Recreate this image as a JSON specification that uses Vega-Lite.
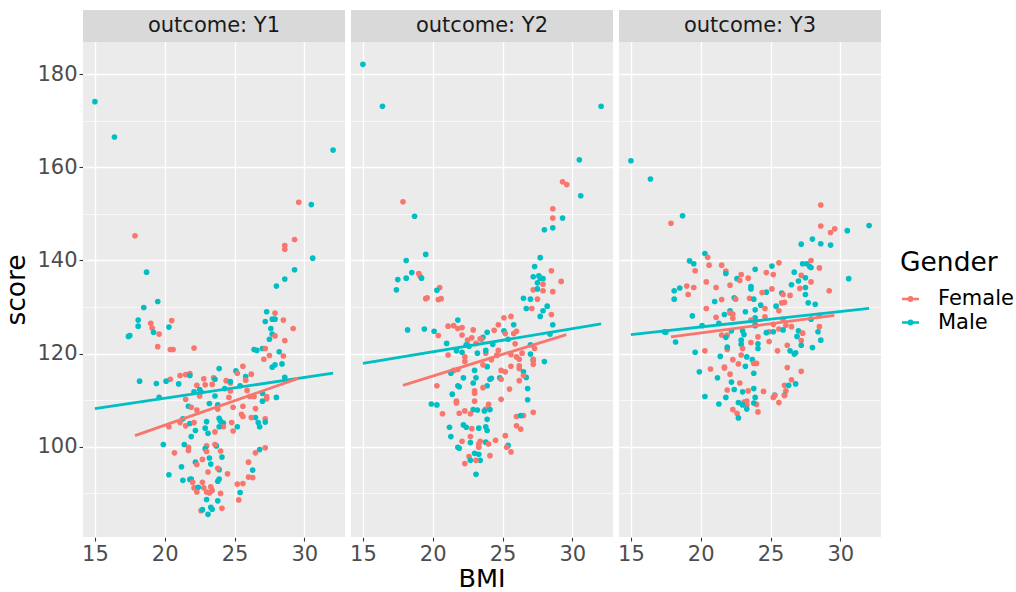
{
"$schema": "https://vega.github.io/schema/vega-lite/v6.json",
"background": "white",
"padding": {"left": 3, "top": 10, "right": 0, "bottom": 0},
"data": {"values": [
{"outcome":"Y1","kind":"strip","label":"outcome: Y1"},
{"outcome":"Y2","kind":"strip","label":"outcome: Y2"},
{"outcome":"Y3","kind":"strip","label":"outcome: Y3"},
{"outcome":"Y1","kind":"fit","Gender":"Male","BMI":15.0,"score":108.2},
{"outcome":"Y1","kind":"fit","Gender":"Male","BMI":32.06,"score":115.8},
{"outcome":"Y1","kind":"fit","Gender":"Female","BMI":17.87,"score":102.4},
{"outcome":"Y1","kind":"fit","Gender":"Female","BMI":29.57,"score":114.7},
{"outcome":"Y2","kind":"fit","Gender":"Male","BMI":15.0,"score":117.9},
{"outcome":"Y2","kind":"fit","Gender":"Male","BMI":32.06,"score":126.4},
{"outcome":"Y2","kind":"fit","Gender":"Female","BMI":17.87,"score":113.2},
{"outcome":"Y2","kind":"fit","Gender":"Female","BMI":29.57,"score":124.1},
{"outcome":"Y3","kind":"fit","Gender":"Male","BMI":15.0,"score":124.1},
{"outcome":"Y3","kind":"fit","Gender":"Male","BMI":32.06,"score":129.7},
{"outcome":"Y3","kind":"fit","Gender":"Female","BMI":17.87,"score":123.6},
{"outcome":"Y3","kind":"fit","Gender":"Female","BMI":29.57,"score":128.2},
{"outcome":"Y1","Gender":"Male","BMI":15.0,"score":174.1},
{"outcome":"Y1","Gender":"Male","BMI":16.4,"score":166.5},
{"outcome":"Y1","Gender":"Male","BMI":32.06,"score":163.7},
{"outcome":"Y1","Gender":"Female","BMI":29.6,"score":152.5},
{"outcome":"Y1","Gender":"Male","BMI":30.5,"score":152.0},
{"outcome":"Y1","Gender":"Female","BMI":17.87,"score":145.3},
{"outcome":"Y1","Gender":"Female","BMI":29.3,"score":144.5},
{"outcome":"Y1","Gender":"Female","BMI":28.6,"score":143.2},
{"outcome":"Y1","Gender":"Female","BMI":28.6,"score":142.4},
{"outcome":"Y1","Gender":"Male","BMI":30.6,"score":140.5},
{"outcome":"Y1","Gender":"Male","BMI":18.7,"score":137.5},
{"outcome":"Y1","Gender":"Male","BMI":29.3,"score":138.0},
{"outcome":"Y1","Gender":"Male","BMI":28.6,"score":136.0},
{"outcome":"Y1","Gender":"Male","BMI":28.0,"score":134.5},
{"outcome":"Y1","Gender":"Male","BMI":19.5,"score":131.2},
{"outcome":"Y1","Gender":"Male","BMI":18.5,"score":129.9},
{"outcome":"Y1","Gender":"Male","BMI":27.3,"score":129.0},
{"outcome":"Y1","Gender":"Female","BMI":27.9,"score":128.7},
{"outcome":"Y1","Gender":"Male","BMI":18.1,"score":127.2},
{"outcome":"Y1","Gender":"Male","BMI":27.2,"score":126.9},
{"outcome":"Y1","Gender":"Male","BMI":27.7,"score":127.4},
{"outcome":"Y1","Gender":"Male","BMI":27.9,"score":127.4},
{"outcome":"Y1","Gender":"Female","BMI":28.5,"score":127.2},
{"outcome":"Y1","Gender":"Female","BMI":20.5,"score":127.1},
{"outcome":"Y1","Gender":"Female","BMI":19.0,"score":126.5},
{"outcome":"Y1","Gender":"Male","BMI":18.1,"score":125.9},
{"outcome":"Y1","Gender":"Female","BMI":19.1,"score":125.5},
{"outcome":"Y1","Gender":"Male","BMI":20.3,"score":125.7},
{"outcome":"Y1","Gender":"Male","BMI":27.6,"score":125.4},
{"outcome":"Y1","Gender":"Female","BMI":29.2,"score":125.4},
{"outcome":"Y1","Gender":"Male","BMI":19.2,"score":124.6},
{"outcome":"Y1","Gender":"Female","BMI":19.6,"score":124.2},
{"outcome":"Y1","Gender":"Male","BMI":27.7,"score":124.2},
{"outcome":"Y1","Gender":"Female","BMI":27.9,"score":123.8},
{"outcome":"Y1","Gender":"Male","BMI":17.4,"score":123.7},
{"outcome":"Y1","Gender":"Male","BMI":17.5,"score":123.9},
{"outcome":"Y1","Gender":"Male","BMI":27.5,"score":123.1},
{"outcome":"Y1","Gender":"Female","BMI":28.6,"score":122.8},
{"outcome":"Y1","Gender":"Female","BMI":19.5,"score":121.5},
{"outcome":"Y1","Gender":"Female","BMI":20.4,"score":120.9},
{"outcome":"Y1","Gender":"Female","BMI":20.6,"score":120.9},
{"outcome":"Y1","Gender":"Female","BMI":22.1,"score":121.2},
{"outcome":"Y1","Gender":"Male","BMI":26.4,"score":120.9},
{"outcome":"Y1","Gender":"Male","BMI":26.6,"score":120.7},
{"outcome":"Y1","Gender":"Male","BMI":27.0,"score":121.1},
{"outcome":"Y1","Gender":"Female","BMI":27.2,"score":121.1},
{"outcome":"Y1","Gender":"Male","BMI":28.2,"score":120.4},
{"outcome":"Y1","Gender":"Female","BMI":27.5,"score":119.6},
{"outcome":"Y1","Gender":"Female","BMI":28.5,"score":119.5},
{"outcome":"Y1","Gender":"Female","BMI":27.1,"score":118.8},
{"outcome":"Y1","Gender":"Male","BMI":28.4,"score":117.8},
{"outcome":"Y1","Gender":"Male","BMI":27.9,"score":117.6},
{"outcome":"Y1","Gender":"Male","BMI":27.7,"score":117.1},
{"outcome":"Y1","Gender":"Female","BMI":25.6,"score":117.3},
{"outcome":"Y1","Gender":"Male","BMI":23.9,"score":116.8},
{"outcome":"Y1","Gender":"Male","BMI":25.1,"score":116.3},
{"outcome":"Y1","Gender":"Female","BMI":25.2,"score":115.8},
{"outcome":"Y1","Gender":"Female","BMI":26.2,"score":115.6},
{"outcome":"Y1","Gender":"Male","BMI":25.8,"score":115.1},
{"outcome":"Y1","Gender":"Male","BMI":28.6,"score":114.9},
{"outcome":"Y1","Gender":"Female","BMI":21.1,"score":115.3},
{"outcome":"Y1","Gender":"Female","BMI":21.5,"score":115.5},
{"outcome":"Y1","Gender":"Female","BMI":21.8,"score":115.7},
{"outcome":"Y1","Gender":"Male","BMI":21.8,"score":115.3},
{"outcome":"Y1","Gender":"Female","BMI":23.5,"score":114.8},
{"outcome":"Y1","Gender":"Female","BMI":22.8,"score":114.6},
{"outcome":"Y1","Gender":"Male","BMI":23.6,"score":114.5},
{"outcome":"Y1","Gender":"Female","BMI":24.4,"score":114.2},
{"outcome":"Y1","Gender":"Female","BMI":24.7,"score":113.7},
{"outcome":"Y1","Gender":"Male","BMI":24.7,"score":114.0},
{"outcome":"Y1","Gender":"Female","BMI":25.8,"score":114.3},
{"outcome":"Y1","Gender":"Female","BMI":20.4,"score":114.5},
{"outcome":"Y1","Gender":"Male","BMI":18.2,"score":114.1},
{"outcome":"Y1","Gender":"Male","BMI":19.4,"score":113.6},
{"outcome":"Y1","Gender":"Male","BMI":20.1,"score":114.1},
{"outcome":"Y1","Gender":"Male","BMI":21.0,"score":113.5},
{"outcome":"Y1","Gender":"Female","BMI":22.3,"score":113.2},
{"outcome":"Y1","Gender":"Female","BMI":22.9,"score":113.3},
{"outcome":"Y1","Gender":"Female","BMI":23.4,"score":113.4},
{"outcome":"Y1","Gender":"Male","BMI":22.5,"score":112.3},
{"outcome":"Y1","Gender":"Male","BMI":22.1,"score":111.8},
{"outcome":"Y1","Gender":"Male","BMI":22.6,"score":111.8},
{"outcome":"Y1","Gender":"Male","BMI":25.4,"score":113.1},
{"outcome":"Y1","Gender":"Female","BMI":24.7,"score":112.0},
{"outcome":"Y1","Gender":"Female","BMI":25.9,"score":112.1},
{"outcome":"Y1","Gender":"Male","BMI":24.3,"score":112.5},
{"outcome":"Y1","Gender":"Male","BMI":19.6,"score":110.6},
{"outcome":"Y1","Gender":"Female","BMI":22.5,"score":110.9},
{"outcome":"Y1","Gender":"Male","BMI":23.6,"score":110.9},
{"outcome":"Y1","Gender":"Female","BMI":24.6,"score":110.6},
{"outcome":"Y1","Gender":"Female","BMI":26.1,"score":110.8},
{"outcome":"Y1","Gender":"Female","BMI":26.4,"score":110.8},
{"outcome":"Y1","Gender":"Male","BMI":27.0,"score":111.5},
{"outcome":"Y1","Gender":"Female","BMI":27.3,"score":110.8},
{"outcome":"Y1","Gender":"Female","BMI":27.3,"score":110.3},
{"outcome":"Y1","Gender":"Male","BMI":28.0,"score":110.6},
{"outcome":"Y1","Gender":"Male","BMI":27.0,"score":109.8},
{"outcome":"Y1","Gender":"Female","BMI":21.5,"score":110.2},
{"outcome":"Y1","Gender":"Male","BMI":21.7,"score":108.7},
{"outcome":"Y1","Gender":"Female","BMI":21.9,"score":108.5},
{"outcome":"Y1","Gender":"Female","BMI":22.3,"score":107.9},
{"outcome":"Y1","Gender":"Male","BMI":23.2,"score":109.3},
{"outcome":"Y1","Gender":"Male","BMI":23.8,"score":109.0},
{"outcome":"Y1","Gender":"Female","BMI":23.8,"score":108.1},
{"outcome":"Y1","Gender":"Female","BMI":24.9,"score":108.5},
{"outcome":"Y1","Gender":"Female","BMI":25.6,"score":108.7},
{"outcome":"Y1","Gender":"Female","BMI":26.5,"score":108.2},
{"outcome":"Y1","Gender":"Female","BMI":25.5,"score":107.0},
{"outcome":"Y1","Gender":"Female","BMI":25.6,"score":106.5},
{"outcome":"Y1","Gender":"Male","BMI":26.5,"score":106.3},
{"outcome":"Y1","Gender":"Female","BMI":26.2,"score":106.3},
{"outcome":"Y1","Gender":"Female","BMI":27.2,"score":106.0},
{"outcome":"Y1","Gender":"Male","BMI":26.7,"score":105.2},
{"outcome":"Y1","Gender":"Male","BMI":26.8,"score":104.3},
{"outcome":"Y1","Gender":"Male","BMI":27.2,"score":105.3},
{"outcome":"Y1","Gender":"Male","BMI":21.3,"score":106.0},
{"outcome":"Y1","Gender":"Female","BMI":21.1,"score":105.2},
{"outcome":"Y1","Gender":"Female","BMI":20.3,"score":104.3},
{"outcome":"Y1","Gender":"Female","BMI":21.5,"score":104.5},
{"outcome":"Y1","Gender":"Male","BMI":21.8,"score":105.0},
{"outcome":"Y1","Gender":"Female","BMI":22.1,"score":105.2},
{"outcome":"Y1","Gender":"Male","BMI":23.0,"score":105.4},
{"outcome":"Y1","Gender":"Female","BMI":23.6,"score":103.2},
{"outcome":"Y1","Gender":"Male","BMI":23.9,"score":106.1},
{"outcome":"Y1","Gender":"Male","BMI":24.0,"score":105.5},
{"outcome":"Y1","Gender":"Male","BMI":24.2,"score":105.1},
{"outcome":"Y1","Gender":"Female","BMI":24.2,"score":104.3},
{"outcome":"Y1","Gender":"Male","BMI":23.9,"score":104.3},
{"outcome":"Y1","Gender":"Male","BMI":22.9,"score":104.0},
{"outcome":"Y1","Gender":"Female","BMI":24.8,"score":105.2},
{"outcome":"Y1","Gender":"Male","BMI":25.2,"score":104.3},
{"outcome":"Y1","Gender":"Female","BMI":24.9,"score":103.4},
{"outcome":"Y1","Gender":"Male","BMI":22.2,"score":103.5},
{"outcome":"Y1","Gender":"Male","BMI":23.1,"score":102.9},
{"outcome":"Y1","Gender":"Male","BMI":21.9,"score":102.2},
{"outcome":"Y1","Gender":"Male","BMI":19.9,"score":100.5},
{"outcome":"Y1","Gender":"Male","BMI":21.4,"score":100.5},
{"outcome":"Y1","Gender":"Female","BMI":20.7,"score":98.7},
{"outcome":"Y1","Gender":"Female","BMI":21.7,"score":99.9},
{"outcome":"Y1","Gender":"Female","BMI":21.7,"score":99.2},
{"outcome":"Y1","Gender":"Female","BMI":23.0,"score":100.2},
{"outcome":"Y1","Gender":"Male","BMI":22.9,"score":99.6},
{"outcome":"Y1","Gender":"Female","BMI":23.0,"score":99.0},
{"outcome":"Y1","Gender":"Male","BMI":23.7,"score":100.2},
{"outcome":"Y1","Gender":"Female","BMI":23.6,"score":100.5},
{"outcome":"Y1","Gender":"Female","BMI":24.0,"score":99.1},
{"outcome":"Y1","Gender":"Male","BMI":24.1,"score":97.8},
{"outcome":"Y1","Gender":"Male","BMI":26.8,"score":99.4},
{"outcome":"Y1","Gender":"Female","BMI":27.2,"score":99.8},
{"outcome":"Y1","Gender":"Female","BMI":26.5,"score":98.7},
{"outcome":"Y1","Gender":"Female","BMI":22.7,"score":97.3},
{"outcome":"Y1","Gender":"Male","BMI":23.2,"score":97.6},
{"outcome":"Y1","Gender":"Male","BMI":22.2,"score":96.7},
{"outcome":"Y1","Gender":"Female","BMI":22.3,"score":96.2},
{"outcome":"Y1","Gender":"Male","BMI":23.3,"score":96.3},
{"outcome":"Y1","Gender":"Female","BMI":23.1,"score":94.6},
{"outcome":"Y1","Gender":"Male","BMI":23.9,"score":95.1},
{"outcome":"Y1","Gender":"Female","BMI":23.8,"score":95.4},
{"outcome":"Y1","Gender":"Female","BMI":24.5,"score":94.2},
{"outcome":"Y1","Gender":"Male","BMI":21.2,"score":95.7},
{"outcome":"Y1","Gender":"Male","BMI":20.3,"score":94.0},
{"outcome":"Y1","Gender":"Female","BMI":26.0,"score":96.7},
{"outcome":"Y1","Gender":"Male","BMI":26.3,"score":95.0},
{"outcome":"Y1","Gender":"Female","BMI":26.0,"score":93.5},
{"outcome":"Y1","Gender":"Female","BMI":26.3,"score":93.4},
{"outcome":"Y1","Gender":"Female","BMI":25.6,"score":92.1},
{"outcome":"Y1","Gender":"Female","BMI":25.2,"score":92.0},
{"outcome":"Y1","Gender":"Male","BMI":21.3,"score":92.8},
{"outcome":"Y1","Gender":"Male","BMI":21.8,"score":93.0},
{"outcome":"Y1","Gender":"Male","BMI":21.9,"score":93.1},
{"outcome":"Y1","Gender":"Female","BMI":22.0,"score":92.4},
{"outcome":"Y1","Gender":"Male","BMI":23.9,"score":93.1},
{"outcome":"Y1","Gender":"Male","BMI":23.8,"score":92.6},
{"outcome":"Y1","Gender":"Female","BMI":22.7,"score":92.4},
{"outcome":"Y1","Gender":"Female","BMI":22.1,"score":91.2},
{"outcome":"Y1","Gender":"Female","BMI":22.3,"score":91.2},
{"outcome":"Y1","Gender":"Male","BMI":22.4,"score":91.3},
{"outcome":"Y1","Gender":"Female","BMI":22.8,"score":91.2},
{"outcome":"Y1","Gender":"Female","BMI":23.3,"score":91.4},
{"outcome":"Y1","Gender":"Female","BMI":23.4,"score":90.6},
{"outcome":"Y1","Gender":"Female","BMI":23.2,"score":90.1},
{"outcome":"Y1","Gender":"Female","BMI":23.0,"score":90.3},
{"outcome":"Y1","Gender":"Female","BMI":22.3,"score":90.3},
{"outcome":"Y1","Gender":"Female","BMI":24.0,"score":90.0},
{"outcome":"Y1","Gender":"Male","BMI":25.4,"score":90.2},
{"outcome":"Y1","Gender":"Female","BMI":25.3,"score":88.6},
{"outcome":"Y1","Gender":"Male","BMI":23.0,"score":88.7},
{"outcome":"Y1","Gender":"Male","BMI":23.8,"score":88.4},
{"outcome":"Y1","Gender":"Male","BMI":23.3,"score":87.0},
{"outcome":"Y1","Gender":"Male","BMI":23.4,"score":86.6},
{"outcome":"Y1","Gender":"Female","BMI":22.6,"score":86.3},
{"outcome":"Y1","Gender":"Male","BMI":22.7,"score":86.5},
{"outcome":"Y1","Gender":"Female","BMI":24.1,"score":86.8},
{"outcome":"Y1","Gender":"Male","BMI":23.1,"score":85.5},
{"outcome":"Y2","Gender":"Male","BMI":15.0,"score":182.1},
{"outcome":"Y2","Gender":"Male","BMI":16.4,"score":173.1},
{"outcome":"Y2","Gender":"Male","BMI":32.06,"score":173.1},
{"outcome":"Y2","Gender":"Male","BMI":30.5,"score":161.6},
{"outcome":"Y2","Gender":"Female","BMI":29.3,"score":156.9},
{"outcome":"Y2","Gender":"Female","BMI":29.6,"score":156.3},
{"outcome":"Y2","Gender":"Male","BMI":30.6,"score":153.9},
{"outcome":"Y2","Gender":"Female","BMI":17.87,"score":152.6},
{"outcome":"Y2","Gender":"Male","BMI":18.7,"score":149.5},
{"outcome":"Y2","Gender":"Female","BMI":28.6,"score":151.1},
{"outcome":"Y2","Gender":"Female","BMI":28.6,"score":149.1},
{"outcome":"Y2","Gender":"Male","BMI":29.3,"score":149.1},
{"outcome":"Y2","Gender":"Male","BMI":28.6,"score":147.0},
{"outcome":"Y2","Gender":"Male","BMI":28.0,"score":146.6},
{"outcome":"Y2","Gender":"Male","BMI":19.5,"score":141.3},
{"outcome":"Y2","Gender":"Male","BMI":18.1,"score":140.0},
{"outcome":"Y2","Gender":"Male","BMI":27.7,"score":140.6},
{"outcome":"Y2","Gender":"Male","BMI":27.3,"score":138.7},
{"outcome":"Y2","Gender":"Male","BMI":18.5,"score":137.4},
{"outcome":"Y2","Gender":"Female","BMI":19.0,"score":137.2},
{"outcome":"Y2","Gender":"Female","BMI":19.1,"score":136.6},
{"outcome":"Y2","Gender":"Male","BMI":19.2,"score":136.2},
{"outcome":"Y2","Gender":"Male","BMI":17.5,"score":135.9},
{"outcome":"Y2","Gender":"Male","BMI":18.1,"score":136.2},
{"outcome":"Y2","Gender":"Male","BMI":17.4,"score":133.7},
{"outcome":"Y2","Gender":"Female","BMI":28.5,"score":137.8},
{"outcome":"Y2","Gender":"Male","BMI":27.2,"score":136.5},
{"outcome":"Y2","Gender":"Male","BMI":27.6,"score":136.7},
{"outcome":"Y2","Gender":"Male","BMI":27.7,"score":136.2},
{"outcome":"Y2","Gender":"Male","BMI":27.9,"score":136.1},
{"outcome":"Y2","Gender":"Male","BMI":27.5,"score":135.2},
{"outcome":"Y2","Gender":"Female","BMI":29.2,"score":135.5},
{"outcome":"Y2","Gender":"Female","BMI":27.9,"score":134.9},
{"outcome":"Y2","Gender":"Female","BMI":27.2,"score":133.7},
{"outcome":"Y2","Gender":"Male","BMI":27.5,"score":133.9},
{"outcome":"Y2","Gender":"Female","BMI":27.9,"score":133.5},
{"outcome":"Y2","Gender":"Female","BMI":28.6,"score":133.3},
{"outcome":"Y2","Gender":"Female","BMI":20.5,"score":134.2},
{"outcome":"Y2","Gender":"Male","BMI":20.3,"score":133.6},
{"outcome":"Y2","Gender":"Female","BMI":19.5,"score":131.8},
{"outcome":"Y2","Gender":"Female","BMI":19.6,"score":132.0},
{"outcome":"Y2","Gender":"Female","BMI":20.4,"score":131.6},
{"outcome":"Y2","Gender":"Female","BMI":20.6,"score":131.8},
{"outcome":"Y2","Gender":"Male","BMI":26.5,"score":131.9},
{"outcome":"Y2","Gender":"Male","BMI":27.0,"score":131.7},
{"outcome":"Y2","Gender":"Female","BMI":27.5,"score":131.7},
{"outcome":"Y2","Gender":"Male","BMI":28.2,"score":130.2},
{"outcome":"Y2","Gender":"Male","BMI":26.7,"score":129.7},
{"outcome":"Y2","Gender":"Female","BMI":27.1,"score":129.7},
{"outcome":"Y2","Gender":"Male","BMI":27.9,"score":129.2},
{"outcome":"Y2","Gender":"Female","BMI":28.5,"score":128.4},
{"outcome":"Y2","Gender":"Male","BMI":27.7,"score":128.0},
{"outcome":"Y2","Gender":"Female","BMI":25.6,"score":128.0},
{"outcome":"Y2","Gender":"Female","BMI":25.1,"score":127.7},
{"outcome":"Y2","Gender":"Male","BMI":21.8,"score":127.2},
{"outcome":"Y2","Gender":"Female","BMI":21.1,"score":125.9},
{"outcome":"Y2","Gender":"Female","BMI":21.5,"score":126.0},
{"outcome":"Y2","Gender":"Female","BMI":21.8,"score":125.4},
{"outcome":"Y2","Gender":"Female","BMI":22.1,"score":125.6},
{"outcome":"Y2","Gender":"Male","BMI":18.2,"score":125.1},
{"outcome":"Y2","Gender":"Male","BMI":19.4,"score":125.3},
{"outcome":"Y2","Gender":"Male","BMI":20.1,"score":124.8},
{"outcome":"Y2","Gender":"Female","BMI":20.4,"score":123.9},
{"outcome":"Y2","Gender":"Female","BMI":24.7,"score":126.2},
{"outcome":"Y2","Gender":"Male","BMI":25.8,"score":126.2},
{"outcome":"Y2","Gender":"Female","BMI":22.9,"score":125.1},
{"outcome":"Y2","Gender":"Female","BMI":24.4,"score":125.0},
{"outcome":"Y2","Gender":"Male","BMI":23.9,"score":124.6},
{"outcome":"Y2","Gender":"Male","BMI":25.1,"score":124.9},
{"outcome":"Y2","Gender":"Female","BMI":25.2,"score":124.3},
{"outcome":"Y2","Gender":"Female","BMI":25.8,"score":124.3},
{"outcome":"Y2","Gender":"Female","BMI":26.0,"score":124.8},
{"outcome":"Y2","Gender":"Female","BMI":22.1,"score":124.0},
{"outcome":"Y2","Gender":"Female","BMI":22.8,"score":123.4},
{"outcome":"Y2","Gender":"Female","BMI":22.5,"score":122.9},
{"outcome":"Y2","Gender":"Male","BMI":23.6,"score":123.5},
{"outcome":"Y2","Gender":"Female","BMI":23.4,"score":123.2},
{"outcome":"Y2","Gender":"Female","BMI":23.5,"score":123.1},
{"outcome":"Y2","Gender":"Male","BMI":28.6,"score":126.2},
{"outcome":"Y2","Gender":"Male","BMI":28.4,"score":124.2},
{"outcome":"Y2","Gender":"Male","BMI":25.4,"score":123.1},
{"outcome":"Y2","Gender":"Male","BMI":21.0,"score":122.2},
{"outcome":"Y2","Gender":"Male","BMI":22.4,"score":121.9},
{"outcome":"Y2","Gender":"Male","BMI":22.6,"score":121.6},
{"outcome":"Y2","Gender":"Female","BMI":23.1,"score":122.2},
{"outcome":"Y2","Gender":"Male","BMI":24.3,"score":122.0},
{"outcome":"Y2","Gender":"Female","BMI":25.9,"score":122.1},
{"outcome":"Y2","Gender":"Male","BMI":27.0,"score":121.9},
{"outcome":"Y2","Gender":"Female","BMI":27.3,"score":121.1},
{"outcome":"Y2","Gender":"Female","BMI":21.1,"score":119.7},
{"outcome":"Y2","Gender":"Male","BMI":21.7,"score":120.6},
{"outcome":"Y2","Gender":"Male","BMI":22.1,"score":120.3},
{"outcome":"Y2","Gender":"Female","BMI":22.3,"score":119.3},
{"outcome":"Y2","Gender":"Female","BMI":22.3,"score":118.3},
{"outcome":"Y2","Gender":"Male","BMI":23.2,"score":120.1},
{"outcome":"Y2","Gender":"Female","BMI":23.8,"score":120.1},
{"outcome":"Y2","Gender":"Male","BMI":23.8,"score":120.7},
{"outcome":"Y2","Gender":"Female","BMI":24.7,"score":120.7},
{"outcome":"Y2","Gender":"Female","BMI":24.6,"score":119.7},
{"outcome":"Y2","Gender":"Female","BMI":25.6,"score":119.8},
{"outcome":"Y2","Gender":"Female","BMI":26.0,"score":119.3},
{"outcome":"Y2","Gender":"Female","BMI":26.2,"score":118.8},
{"outcome":"Y2","Gender":"Female","BMI":26.4,"score":120.1},
{"outcome":"Y2","Gender":"Male","BMI":27.0,"score":119.9},
{"outcome":"Y2","Gender":"Female","BMI":24.2,"score":118.7},
{"outcome":"Y2","Gender":"Female","BMI":24.6,"score":119.6},
{"outcome":"Y2","Gender":"Male","BMI":27.2,"score":118.6},
{"outcome":"Y2","Gender":"Male","BMI":28.0,"score":118.3},
{"outcome":"Y2","Gender":"Female","BMI":27.2,"score":118.8},
{"outcome":"Y2","Gender":"Female","BMI":27.2,"score":117.7},
{"outcome":"Y2","Gender":"Male","BMI":23.9,"score":117.2},
{"outcome":"Y2","Gender":"Female","BMI":23.6,"score":117.6},
{"outcome":"Y2","Gender":"Female","BMI":25.6,"score":117.3},
{"outcome":"Y2","Gender":"Female","BMI":26.2,"score":117.4},
{"outcome":"Y2","Gender":"Female","BMI":26.2,"score":116.8},
{"outcome":"Y2","Gender":"Female","BMI":21.5,"score":116.4},
{"outcome":"Y2","Gender":"Female","BMI":21.8,"score":116.6},
{"outcome":"Y2","Gender":"Male","BMI":21.3,"score":115.8},
{"outcome":"Y2","Gender":"Male","BMI":23.0,"score":116.4},
{"outcome":"Y2","Gender":"Female","BMI":24.9,"score":116.4},
{"outcome":"Y2","Gender":"Female","BMI":25.2,"score":116.1},
{"outcome":"Y2","Gender":"Male","BMI":26.5,"score":116.1},
{"outcome":"Y2","Gender":"Male","BMI":26.7,"score":114.9},
{"outcome":"Y2","Gender":"Female","BMI":26.5,"score":115.3},
{"outcome":"Y2","Gender":"Female","BMI":26.2,"score":114.2},
{"outcome":"Y2","Gender":"Male","BMI":22.2,"score":114.8},
{"outcome":"Y2","Gender":"Male","BMI":23.1,"score":114.8},
{"outcome":"Y2","Gender":"Male","BMI":22.9,"score":113.7},
{"outcome":"Y2","Gender":"Male","BMI":24.1,"score":114.5},
{"outcome":"Y2","Gender":"Male","BMI":24.2,"score":114.7},
{"outcome":"Y2","Gender":"Male","BMI":24.8,"score":114.8},
{"outcome":"Y2","Gender":"Female","BMI":24.9,"score":114.5},
{"outcome":"Y2","Gender":"Male","BMI":23.9,"score":113.1},
{"outcome":"Y2","Gender":"Female","BMI":20.3,"score":113.1},
{"outcome":"Y2","Gender":"Male","BMI":21.8,"score":113.1},
{"outcome":"Y2","Gender":"Male","BMI":21.9,"score":112.9},
{"outcome":"Y2","Gender":"Female","BMI":23.6,"score":112.7},
{"outcome":"Y2","Gender":"Female","BMI":25.5,"score":112.4},
{"outcome":"Y2","Gender":"Male","BMI":26.8,"score":112.5},
{"outcome":"Y2","Gender":"Female","BMI":23.0,"score":112.0},
{"outcome":"Y2","Gender":"Female","BMI":23.0,"score":111.5},
{"outcome":"Y2","Gender":"Male","BMI":21.4,"score":111.3},
{"outcome":"Y2","Gender":"Male","BMI":19.9,"score":109.2},
{"outcome":"Y2","Gender":"Male","BMI":20.3,"score":109.0},
{"outcome":"Y2","Gender":"Female","BMI":21.7,"score":109.8},
{"outcome":"Y2","Gender":"Female","BMI":21.7,"score":109.4},
{"outcome":"Y2","Gender":"Male","BMI":22.9,"score":108.0},
{"outcome":"Y2","Gender":"Male","BMI":23.2,"score":107.9},
{"outcome":"Y2","Gender":"Female","BMI":23.0,"score":109.8},
{"outcome":"Y2","Gender":"Female","BMI":20.7,"score":107.1},
{"outcome":"Y2","Gender":"Female","BMI":21.9,"score":107.2},
{"outcome":"Y2","Gender":"Female","BMI":22.3,"score":107.7},
{"outcome":"Y2","Gender":"Female","BMI":22.7,"score":107.1},
{"outcome":"Y2","Gender":"Female","BMI":24.0,"score":109.1},
{"outcome":"Y2","Gender":"Female","BMI":23.8,"score":108.1},
{"outcome":"Y2","Gender":"Male","BMI":23.7,"score":107.7},
{"outcome":"Y2","Gender":"Male","BMI":24.1,"score":108.0},
{"outcome":"Y2","Gender":"Female","BMI":24.9,"score":110.2},
{"outcome":"Y2","Gender":"Male","BMI":26.8,"score":110.1},
{"outcome":"Y2","Gender":"Female","BMI":26.0,"score":106.5},
{"outcome":"Y2","Gender":"Female","BMI":26.5,"score":106.7},
{"outcome":"Y2","Gender":"Male","BMI":26.3,"score":106.7},
{"outcome":"Y2","Gender":"Female","BMI":27.2,"score":107.4},
{"outcome":"Y2","Gender":"Male","BMI":23.9,"score":105.9},
{"outcome":"Y2","Gender":"Male","BMI":22.2,"score":104.7},
{"outcome":"Y2","Gender":"Male","BMI":22.4,"score":104.2},
{"outcome":"Y2","Gender":"Female","BMI":22.8,"score":103.9},
{"outcome":"Y2","Gender":"Male","BMI":23.3,"score":104.0},
{"outcome":"Y2","Gender":"Male","BMI":23.8,"score":104.3},
{"outcome":"Y2","Gender":"Male","BMI":23.9,"score":103.5},
{"outcome":"Y2","Gender":"Female","BMI":26.0,"score":104.5},
{"outcome":"Y2","Gender":"Female","BMI":26.3,"score":103.8},
{"outcome":"Y2","Gender":"Male","BMI":21.2,"score":104.2},
{"outcome":"Y2","Gender":"Male","BMI":21.3,"score":102.2},
{"outcome":"Y2","Gender":"Female","BMI":22.7,"score":102.2},
{"outcome":"Y2","Gender":"Female","BMI":25.2,"score":102.4},
{"outcome":"Y2","Gender":"Female","BMI":22.1,"score":101.2},
{"outcome":"Y2","Gender":"Male","BMI":22.7,"score":100.9},
{"outcome":"Y2","Gender":"Female","BMI":23.4,"score":101.2},
{"outcome":"Y2","Gender":"Female","BMI":23.3,"score":100.6},
{"outcome":"Y2","Gender":"Female","BMI":23.3,"score":99.9},
{"outcome":"Y2","Gender":"Male","BMI":23.8,"score":101.0},
{"outcome":"Y2","Gender":"Female","BMI":24.0,"score":100.6},
{"outcome":"Y2","Gender":"Female","BMI":24.5,"score":101.4},
{"outcome":"Y2","Gender":"Male","BMI":25.4,"score":100.3},
{"outcome":"Y2","Gender":"Female","BMI":25.3,"score":99.9},
{"outcome":"Y2","Gender":"Female","BMI":25.6,"score":98.9},
{"outcome":"Y2","Gender":"Male","BMI":21.8,"score":99.9},
{"outcome":"Y2","Gender":"Male","BMI":21.9,"score":99.7},
{"outcome":"Y2","Gender":"Male","BMI":23.0,"score":98.6},
{"outcome":"Y2","Gender":"Male","BMI":23.3,"score":98.4},
{"outcome":"Y2","Gender":"Female","BMI":22.6,"score":97.9},
{"outcome":"Y2","Gender":"Female","BMI":24.1,"score":98.1},
{"outcome":"Y2","Gender":"Male","BMI":22.7,"score":97.1},
{"outcome":"Y2","Gender":"Male","BMI":23.4,"score":97.1},
{"outcome":"Y2","Gender":"Female","BMI":23.1,"score":97.1},
{"outcome":"Y2","Gender":"Female","BMI":22.3,"score":96.4},
{"outcome":"Y2","Gender":"Male","BMI":23.1,"score":94.1},
{"outcome":"Y3","Gender":"Male","BMI":15.0,"score":161.4},
{"outcome":"Y3","Gender":"Male","BMI":16.4,"score":157.5},
{"outcome":"Y3","Gender":"Male","BMI":18.7,"score":149.6},
{"outcome":"Y3","Gender":"Female","BMI":17.87,"score":148.0},
{"outcome":"Y3","Gender":"Female","BMI":28.6,"score":151.9},
{"outcome":"Y3","Gender":"Female","BMI":28.6,"score":147.4},
{"outcome":"Y3","Gender":"Female","BMI":29.3,"score":146.0},
{"outcome":"Y3","Gender":"Female","BMI":29.6,"score":146.8},
{"outcome":"Y3","Gender":"Male","BMI":30.5,"score":146.4},
{"outcome":"Y3","Gender":"Male","BMI":32.06,"score":147.5},
{"outcome":"Y3","Gender":"Male","BMI":28.0,"score":144.6},
{"outcome":"Y3","Gender":"Male","BMI":27.2,"score":143.5},
{"outcome":"Y3","Gender":"Male","BMI":28.6,"score":143.6},
{"outcome":"Y3","Gender":"Male","BMI":29.3,"score":143.3},
{"outcome":"Y3","Gender":"Male","BMI":20.3,"score":141.5},
{"outcome":"Y3","Gender":"Female","BMI":20.5,"score":140.7},
{"outcome":"Y3","Gender":"Male","BMI":19.2,"score":139.9},
{"outcome":"Y3","Gender":"Male","BMI":19.5,"score":139.3},
{"outcome":"Y3","Gender":"Female","BMI":20.6,"score":139.0},
{"outcome":"Y3","Gender":"Female","BMI":19.6,"score":137.8},
{"outcome":"Y3","Gender":"Female","BMI":21.5,"score":139.0},
{"outcome":"Y3","Gender":"Female","BMI":21.8,"score":137.7},
{"outcome":"Y3","Gender":"Male","BMI":21.8,"score":137.2},
{"outcome":"Y3","Gender":"Male","BMI":23.9,"score":138.1},
{"outcome":"Y3","Gender":"Male","BMI":25.1,"score":138.8},
{"outcome":"Y3","Gender":"Female","BMI":25.6,"score":139.5},
{"outcome":"Y3","Gender":"Female","BMI":24.7,"score":137.4},
{"outcome":"Y3","Gender":"Female","BMI":25.2,"score":137.0},
{"outcome":"Y3","Gender":"Male","BMI":27.3,"score":139.3},
{"outcome":"Y3","Gender":"Male","BMI":27.6,"score":139.3},
{"outcome":"Y3","Gender":"Male","BMI":27.8,"score":138.7},
{"outcome":"Y3","Gender":"Male","BMI":27.9,"score":138.5},
{"outcome":"Y3","Gender":"Female","BMI":27.9,"score":140.0},
{"outcome":"Y3","Gender":"Female","BMI":28.5,"score":138.4},
{"outcome":"Y3","Gender":"Male","BMI":26.7,"score":137.5},
{"outcome":"Y3","Gender":"Female","BMI":27.2,"score":136.8},
{"outcome":"Y3","Gender":"Male","BMI":27.5,"score":136.3},
{"outcome":"Y3","Gender":"Male","BMI":27.0,"score":135.6},
{"outcome":"Y3","Gender":"Male","BMI":30.6,"score":136.1},
{"outcome":"Y3","Gender":"Female","BMI":27.9,"score":135.4},
{"outcome":"Y3","Gender":"Male","BMI":26.5,"score":134.8},
{"outcome":"Y3","Gender":"Male","BMI":27.5,"score":134.2},
{"outcome":"Y3","Gender":"Female","BMI":27.1,"score":134.0},
{"outcome":"Y3","Gender":"Female","BMI":29.2,"score":133.5},
{"outcome":"Y3","Gender":"Female","BMI":22.9,"score":137.0},
{"outcome":"Y3","Gender":"Female","BMI":23.4,"score":136.2},
{"outcome":"Y3","Gender":"Male","BMI":22.6,"score":136.1},
{"outcome":"Y3","Gender":"Female","BMI":22.8,"score":135.7},
{"outcome":"Y3","Gender":"Female","BMI":20.4,"score":135.4},
{"outcome":"Y3","Gender":"Female","BMI":22.1,"score":134.7},
{"outcome":"Y3","Gender":"Female","BMI":21.1,"score":134.2},
{"outcome":"Y3","Gender":"Male","BMI":23.6,"score":134.4},
{"outcome":"Y3","Gender":"Male","BMI":23.6,"score":133.9},
{"outcome":"Y3","Gender":"Female","BMI":25.1,"score":133.9},
{"outcome":"Y3","Gender":"Male","BMI":24.7,"score":133.2},
{"outcome":"Y3","Gender":"Female","BMI":24.4,"score":133.1},
{"outcome":"Y3","Gender":"Male","BMI":18.1,"score":133.5},
{"outcome":"Y3","Gender":"Male","BMI":18.5,"score":134.1},
{"outcome":"Y3","Gender":"Male","BMI":18.1,"score":131.7},
{"outcome":"Y3","Gender":"Female","BMI":19.0,"score":134.5},
{"outcome":"Y3","Gender":"Female","BMI":19.5,"score":134.2},
{"outcome":"Y3","Gender":"Female","BMI":19.1,"score":132.7},
{"outcome":"Y3","Gender":"Male","BMI":25.8,"score":133.0},
{"outcome":"Y3","Gender":"Female","BMI":25.9,"score":132.7},
{"outcome":"Y3","Gender":"Female","BMI":26.4,"score":132.5},
{"outcome":"Y3","Gender":"Male","BMI":27.5,"score":132.7},
{"outcome":"Y3","Gender":"Female","BMI":21.5,"score":131.6},
{"outcome":"Y3","Gender":"Male","BMI":22.4,"score":132.0},
{"outcome":"Y3","Gender":"Female","BMI":22.5,"score":131.7},
{"outcome":"Y3","Gender":"Female","BMI":23.5,"score":131.9},
{"outcome":"Y3","Gender":"Male","BMI":23.8,"score":131.7},
{"outcome":"Y3","Gender":"Male","BMI":21.0,"score":131.2},
{"outcome":"Y3","Gender":"Female","BMI":25.8,"score":130.9},
{"outcome":"Y3","Gender":"Female","BMI":26.0,"score":131.0},
{"outcome":"Y3","Gender":"Male","BMI":27.7,"score":130.9},
{"outcome":"Y3","Gender":"Male","BMI":28.2,"score":130.6},
{"outcome":"Y3","Gender":"Male","BMI":24.3,"score":130.4},
{"outcome":"Y3","Gender":"Male","BMI":25.4,"score":130.2},
{"outcome":"Y3","Gender":"Female","BMI":24.6,"score":129.7},
{"outcome":"Y3","Gender":"Female","BMI":20.4,"score":129.7},
{"outcome":"Y3","Gender":"Male","BMI":23.2,"score":129.0},
{"outcome":"Y3","Gender":"Male","BMI":23.9,"score":129.4},
{"outcome":"Y3","Gender":"Female","BMI":25.6,"score":129.2},
{"outcome":"Y3","Gender":"Male","BMI":21.7,"score":128.4},
{"outcome":"Y3","Gender":"Male","BMI":22.1,"score":129.2},
{"outcome":"Y3","Gender":"Female","BMI":22.1,"score":128.7},
{"outcome":"Y3","Gender":"Female","BMI":22.3,"score":128.5},
{"outcome":"Y3","Gender":"Female","BMI":21.1,"score":127.8},
{"outcome":"Y3","Gender":"Male","BMI":19.4,"score":128.1},
{"outcome":"Y3","Gender":"Female","BMI":22.3,"score":127.6},
{"outcome":"Y3","Gender":"Female","BMI":24.6,"score":127.9},
{"outcome":"Y3","Gender":"Male","BMI":23.9,"score":127.7},
{"outcome":"Y3","Gender":"Female","BMI":23.6,"score":127.2},
{"outcome":"Y3","Gender":"Female","BMI":25.9,"score":127.4},
{"outcome":"Y3","Gender":"Female","BMI":28.5,"score":128.2},
{"outcome":"Y3","Gender":"Male","BMI":27.9,"score":127.4},
{"outcome":"Y3","Gender":"Male","BMI":21.3,"score":126.5},
{"outcome":"Y3","Gender":"Male","BMI":20.1,"score":126.0},
{"outcome":"Y3","Gender":"Male","BMI":17.4,"score":124.7},
{"outcome":"Y3","Gender":"Male","BMI":17.5,"score":124.6},
{"outcome":"Y3","Gender":"Female","BMI":23.9,"score":126.3},
{"outcome":"Y3","Gender":"Female","BMI":25.2,"score":126.3},
{"outcome":"Y3","Gender":"Male","BMI":23.9,"score":126.0},
{"outcome":"Y3","Gender":"Female","BMI":26.1,"score":126.1},
{"outcome":"Y3","Gender":"Female","BMI":26.5,"score":125.8},
{"outcome":"Y3","Gender":"Female","BMI":28.5,"score":125.8},
{"outcome":"Y3","Gender":"Female","BMI":25.6,"score":125.3},
{"outcome":"Y3","Gender":"Male","BMI":25.9,"score":125.1},
{"outcome":"Y3","Gender":"Male","BMI":27.0,"score":124.9},
{"outcome":"Y3","Gender":"Female","BMI":24.9,"score":124.7},
{"outcome":"Y3","Gender":"Male","BMI":25.2,"score":124.7},
{"outcome":"Y3","Gender":"Male","BMI":24.7,"score":124.5},
{"outcome":"Y3","Gender":"Male","BMI":28.4,"score":124.7},
{"outcome":"Y3","Gender":"Female","BMI":27.3,"score":124.4},
{"outcome":"Y3","Gender":"Male","BMI":26.9,"score":123.7},
{"outcome":"Y3","Gender":"Female","BMI":21.5,"score":124.0},
{"outcome":"Y3","Gender":"Female","BMI":21.9,"score":124.0},
{"outcome":"Y3","Gender":"Male","BMI":21.8,"score":123.5},
{"outcome":"Y3","Gender":"Male","BMI":22.2,"score":124.9},
{"outcome":"Y3","Gender":"Male","BMI":23.1,"score":124.1},
{"outcome":"Y3","Gender":"Male","BMI":23.0,"score":124.9},
{"outcome":"Y3","Gender":"Female","BMI":24.1,"score":123.6},
{"outcome":"Y3","Gender":"Male","BMI":18.2,"score":122.5},
{"outcome":"Y3","Gender":"Male","BMI":28.6,"score":122.9},
{"outcome":"Y3","Gender":"Female","BMI":24.9,"score":122.6},
{"outcome":"Y3","Gender":"Female","BMI":26.2,"score":121.8},
{"outcome":"Y3","Gender":"Female","BMI":27.2,"score":122.8},
{"outcome":"Y3","Gender":"Male","BMI":27.2,"score":121.8},
{"outcome":"Y3","Gender":"Male","BMI":22.9,"score":122.9},
{"outcome":"Y3","Gender":"Male","BMI":22.9,"score":122.0},
{"outcome":"Y3","Gender":"Female","BMI":23.6,"score":122.4},
{"outcome":"Y3","Gender":"Male","BMI":24.1,"score":122.1},
{"outcome":"Y3","Gender":"Male","BMI":24.1,"score":121.1},
{"outcome":"Y3","Gender":"Female","BMI":21.9,"score":120.9},
{"outcome":"Y3","Gender":"Female","BMI":23.0,"score":121.1},
{"outcome":"Y3","Gender":"Male","BMI":21.9,"score":121.4},
{"outcome":"Y3","Gender":"Male","BMI":28.0,"score":121.3},
{"outcome":"Y3","Gender":"Female","BMI":25.5,"score":120.6},
{"outcome":"Y3","Gender":"Female","BMI":20.3,"score":120.6},
{"outcome":"Y3","Gender":"Male","BMI":19.6,"score":120.3},
{"outcome":"Y3","Gender":"Male","BMI":26.4,"score":120.6},
{"outcome":"Y3","Gender":"Male","BMI":26.7,"score":119.9},
{"outcome":"Y3","Gender":"Male","BMI":26.8,"score":120.2},
{"outcome":"Y3","Gender":"Female","BMI":22.9,"score":119.7},
{"outcome":"Y3","Gender":"Male","BMI":21.4,"score":119.4},
{"outcome":"Y3","Gender":"Male","BMI":23.3,"score":119.3},
{"outcome":"Y3","Gender":"Male","BMI":23.7,"score":118.7},
{"outcome":"Y3","Gender":"Female","BMI":22.3,"score":118.7},
{"outcome":"Y3","Gender":"Female","BMI":22.7,"score":117.8},
{"outcome":"Y3","Gender":"Female","BMI":23.8,"score":117.9},
{"outcome":"Y3","Gender":"Female","BMI":24.0,"score":117.9},
{"outcome":"Y3","Gender":"Male","BMI":23.2,"score":117.3},
{"outcome":"Y3","Gender":"Female","BMI":20.7,"score":116.7},
{"outcome":"Y3","Gender":"Female","BMI":21.7,"score":117.1},
{"outcome":"Y3","Gender":"Female","BMI":21.7,"score":116.9},
{"outcome":"Y3","Gender":"Male","BMI":19.9,"score":116.1},
{"outcome":"Y3","Gender":"Female","BMI":22.1,"score":115.6},
{"outcome":"Y3","Gender":"Female","BMI":26.2,"score":117.0},
{"outcome":"Y3","Gender":"Female","BMI":27.2,"score":116.2},
{"outcome":"Y3","Gender":"Male","BMI":23.8,"score":115.8},
{"outcome":"Y3","Gender":"Male","BMI":21.2,"score":114.8},
{"outcome":"Y3","Gender":"Female","BMI":26.5,"score":114.4},
{"outcome":"Y3","Gender":"Male","BMI":22.2,"score":113.9},
{"outcome":"Y3","Gender":"Male","BMI":26.8,"score":113.5},
{"outcome":"Y3","Gender":"Female","BMI":22.8,"score":113.7},
{"outcome":"Y3","Gender":"Female","BMI":26.0,"score":113.2},
{"outcome":"Y3","Gender":"Male","BMI":26.3,"score":113.2},
{"outcome":"Y3","Gender":"Female","BMI":21.9,"score":112.2},
{"outcome":"Y3","Gender":"Female","BMI":23.4,"score":112.0},
{"outcome":"Y3","Gender":"Female","BMI":24.5,"score":111.9},
{"outcome":"Y3","Gender":"Female","BMI":26.1,"score":112.0},
{"outcome":"Y3","Gender":"Male","BMI":22.4,"score":112.3},
{"outcome":"Y3","Gender":"Male","BMI":23.0,"score":111.8},
{"outcome":"Y3","Gender":"Male","BMI":23.8,"score":112.5},
{"outcome":"Y3","Gender":"Male","BMI":25.3,"score":111.1},
{"outcome":"Y3","Gender":"Male","BMI":26.0,"score":111.1},
{"outcome":"Y3","Gender":"Male","BMI":20.3,"score":110.8},
{"outcome":"Y3","Gender":"Male","BMI":21.8,"score":110.6},
{"outcome":"Y3","Gender":"Male","BMI":23.9,"score":110.6},
{"outcome":"Y3","Gender":"Female","BMI":25.2,"score":110.6},
{"outcome":"Y3","Gender":"Female","BMI":25.3,"score":111.0},
{"outcome":"Y3","Gender":"Female","BMI":26.0,"score":111.0},
{"outcome":"Y3","Gender":"Female","BMI":25.6,"score":109.5},
{"outcome":"Y3","Gender":"Male","BMI":21.3,"score":109.2},
{"outcome":"Y3","Gender":"Male","BMI":22.7,"score":109.5},
{"outcome":"Y3","Gender":"Female","BMI":23.1,"score":109.6},
{"outcome":"Y3","Gender":"Female","BMI":23.3,"score":109.8},
{"outcome":"Y3","Gender":"Female","BMI":23.3,"score":109.0},
{"outcome":"Y3","Gender":"Male","BMI":23.0,"score":109.0},
{"outcome":"Y3","Gender":"Male","BMI":23.3,"score":108.1},
{"outcome":"Y3","Gender":"Female","BMI":24.0,"score":109.1},
{"outcome":"Y3","Gender":"Male","BMI":23.8,"score":109.4},
{"outcome":"Y3","Gender":"Female","BMI":22.3,"score":108.0},
{"outcome":"Y3","Gender":"Female","BMI":22.6,"score":107.2},
{"outcome":"Y3","Gender":"Female","BMI":24.1,"score":107.5},
{"outcome":"Y3","Gender":"Male","BMI":22.7,"score":106.2}
]},
"facet": {"column": {"field": "outcome", "type": "nominal", "title": "BMI",
  "header": {"labels": false, "titleOrient": "bottom", "labelOrient": "bottom",
    "titleFont": "DejaVu Sans", "titleFontSize": 25.5, "titleFontWeight": "normal", "titleColor": "#000000", "titlePadding": -7}}},
"spacing": 6,
"spec": {
  "width": 262,
  "height": 527,
  "layer": [
    {
      "transform": [{"filter": "!datum.kind"}],
      "mark": {"type": "circle", "size": 32, "opacity": 1},
      "encoding": {
        "x": {"field": "BMI", "type": "quantitative", "title": null,
          "scale": {"domain": [14.147, 32.913], "nice": false, "zero": false},
          "axis": {"values": [15, 17.5, 20, 22.5, 25, 27.5, 30, 32.5],
            "labelExpr": "datum.value % 5 === 0 ? datum.label : ''",
            "gridWidth": {"condition": {"test": "datum.value % 5 === 0", "value": 1.3}, "value": 0.65},
            "tickOpacity": {"condition": {"test": "datum.value % 5 === 0", "value": 1}, "value": 0}}},
        "y": {"field": "score", "type": "quantitative", "title": "score",
          "scale": {"domain": [80.64, 193.77], "nice": false, "zero": false},
          "axis": {"values": [90, 100, 110, 120, 130, 140, 150, 160, 170, 180],
            "labelExpr": "datum.value % 20 === 0 ? datum.label : ''",
            "titleY": 279.5,
            "gridWidth": {"condition": {"test": "datum.value % 20 === 0", "value": 1.3}, "value": 0.65},
            "tickOpacity": {"condition": {"test": "datum.value % 20 === 0", "value": 1}, "value": 0}}},
        "color": {"field": "Gender", "type": "nominal", "title": "Gender",
          "scale": {"domain": ["Female", "Male"], "range": ["#F8766D", "#00BFC4"]},
          "legend": {"title": "Gender", "orient": "none", "legendX": 817, "legendY": 240}}
      }
    },
    {
      "transform": [{"filter": "datum.kind === 'fit'"}],
      "mark": {"type": "line", "strokeWidth": 2.8},
      "encoding": {
        "x": {"field": "BMI", "type": "quantitative", "title": null},
        "y": {"field": "score", "type": "quantitative", "title": "score"},
        "color": {"field": "Gender", "type": "nominal", "title": "Gender",
          "legend": {"title": "Gender", "orient": "none", "legendX": 817, "legendY": 240}}
      }
    },
    {
      "transform": [{"filter": "datum.kind === 'strip'"}],
      "mark": {"type": "rect", "color": "#D9D9D9"},
      "encoding": {
        "x": {"datum": 14.147, "type": "quantitative", "title": null},
        "x2": {"datum": 32.913},
        "y": {"datum": 186.9, "type": "quantitative", "title": "score"},
        "y2": {"datum": 193.77}
      }
    },
    {
      "transform": [{"filter": "datum.kind === 'strip'"}],
      "mark": {"type": "text", "fontSize": 21, "color": "#1A1A1A", "font": "DejaVu Sans", "baseline": "middle", "align": "center"},
      "encoding": {
        "x": {"datum": 23.53, "type": "quantitative", "title": null},
        "y": {"datum": 190.34, "type": "quantitative", "title": "score"},
        "text": {"field": "label"}
      }
    }
  ]
},
"config": {
  "font": "DejaVu Sans",
  "view": {"fill": "#EBEBEB", "stroke": null},
  "axis": {
    "domain": false,
    "gridColor": "#FFFFFF",
    "tickColor": "#333333",
    "tickSize": 4,
    "tickWidth": 1.1,
    "labelFont": "DejaVu Sans",
    "labelFontSize": 21,
    "labelColor": "#4D4D4D",
    "labelPadding": 2,
    "labelOverlap": false,
    "labelFlush": false,
    "titleFont": "DejaVu Sans",
    "titleFontSize": 26.5,
    "titleFontWeight": "normal",
    "titleColor": "#000000"
  },
  "axisX": {"titlePadding": 4},
  "axisY": {"titlePadding": 6},
  "legend": {
    "titleFont": "DejaVu Sans",
    "titleFontSize": 26.5,
    "titleFontWeight": "normal",
    "titleColor": "#000000",
    "titlePadding": 12,
    "labelFont": "DejaVu Sans",
    "labelFontSize": 21,
    "labelColor": "#000000",
    "labelOffset": 17,
    "rowPadding": 1.5,
    "padding": 0,
    "symbolType": "M-1,0L1,0M-0.2,0a0.2,0.2 0 1,0 0.4,0a0.2,0.2 0 1,0 -0.4,0",
    "symbolSize": 289,
    "symbolStrokeWidth": 2.5
  }
}
}
